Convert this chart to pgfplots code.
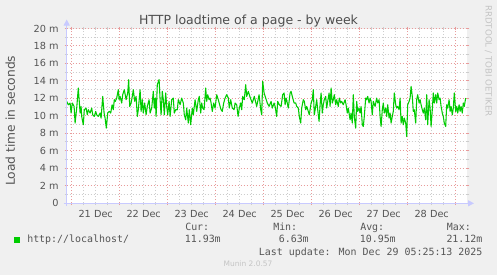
\documentclass[border=0pt]{standalone}
\usepackage{pgfplots}
\pgfplotsset{compat=1.18}
\usepackage{fontspec}
\setmainfont{DejaVu Sans}
\newfontfamily\mono{DejaVu Sans Mono}
\usetikzlibrary{arrows.meta}
\definecolor{bgc}{HTML}{F0F0F0}
\definecolor{txt}{HTML}{555555}
\definecolor{ttl}{HTML}{4D4D4D}
\definecolor{ser}{HTML}{00CC00}
\definecolor{mgrid}{RGB}{232,155,155}
\definecolor{ngrid}{RGB}{205,205,205}
\definecolor{axb}{RGB}{200,202,255}
\definecolor{wm}{HTML}{C4C4C4}
\pgfplotstableread{
h v
-2.5 11.65
-1.7 11.26
-0.8 11.46
-0.3 10.31
0.3 11.46
1.2 11.07
1.7 9.16
2.5 10.88
3.3 13.18
4.2 10.31
4.7 11.07
5.0 9.92
5.8 8.97
6.3 10.69
7.2 10.88
7.8 10.11
8.3 10.69
9.2 10.31
10.0 10.88
10.5 10.11
11.3 9.92
12.0 10.50
12.5 10.11
13.3 9.92
14.2 10.31
14.7 9.73
15.5 12.22
16.2 10.31
16.7 9.73
17.3 8.58
18.0 10.31
18.8 10.50
19.5 10.31
20.2 11.26
20.8 10.69
21.3 11.84
21.8 11.65
22.5 12.03
23.3 12.99
23.7 11.84
24.2 12.22
25.0 11.46
25.5 12.41
26.3 12.99
27.2 11.84
28.0 12.61
28.5 14.14
29.0 11.07
29.7 11.46
30.3 12.22
30.8 12.99
31.5 11.65
32.2 12.22
32.8 9.92
33.3 10.69
34.2 12.99
34.7 10.50
35.3 11.84
35.8 10.31
36.5 11.46
37.2 10.11
37.8 11.07
38.7 11.84
39.2 10.31
40.0 10.88
40.8 12.80
41.3 10.88
41.8 12.03
42.2 9.92
42.8 13.56
43.7 14.14
44.2 11.84
44.7 10.11
45.3 12.80
45.8 11.84
46.3 10.11
47.0 12.61
47.5 11.07
48.0 10.11
48.7 11.65
49.2 9.92
50.0 11.84
50.8 12.03
51.3 10.31
52.0 10.69
52.8 10.69
53.3 11.84
54.2 11.26
55.0 12.03
55.8 11.46
56.3 10.11
57.0 9.54
57.5 10.88
58.3 9.16
58.8 10.69
59.5 8.97
60.3 10.88
60.8 10.11
61.7 11.84
62.5 10.50
63.3 11.84
63.8 12.22
64.5 10.31
65.0 11.46
65.5 10.88
66.2 10.69
67.0 13.18
67.5 11.65
68.0 12.41
68.7 11.84
69.2 12.03
69.7 11.46
70.3 10.50
71.0 11.46
71.7 10.88
72.5 12.41
73.3 11.84
74.2 11.07
74.7 10.69
75.3 10.50
76.0 11.46
76.7 12.03
77.5 12.41
78.3 12.03
78.8 10.88
79.5 11.84
80.3 10.88
81.2 10.69
81.7 11.46
82.5 11.26
83.2 9.92
83.8 10.88
84.5 11.46
85.0 10.69
85.5 12.22
86.3 11.84
87.0 13.56
87.5 12.22
88.3 12.80
89.2 12.12
90.3 11.46
91.3 12.22
92.5 11.07
93.7 12.41
94.5 10.69
95.0 10.11
95.5 13.95
96.2 12.61
97.0 12.03
97.8 11.46
98.7 11.07
99.7 11.65
100.3 10.88
101.2 11.46
101.7 11.07
102.5 9.92
103.0 11.65
103.8 11.26
104.7 11.07
105.5 12.41
106.2 12.61
106.7 11.26
107.2 12.03
107.8 11.46
108.3 10.88
109.2 12.61
109.7 12.80
110.3 12.22
111.2 11.46
112.0 11.46
112.5 11.07
113.3 10.88
113.8 9.92
114.5 9.16
115.0 10.88
115.8 11.84
116.3 11.65
117.0 10.69
117.5 11.07
118.3 10.50
118.8 10.11
119.7 11.46
120.3 11.84
120.8 12.99
121.3 10.11
122.0 11.07
122.5 11.84
123.0 10.69
123.7 9.35
124.2 11.26
124.7 12.61
125.3 10.31
125.8 11.26
126.3 11.84
127.0 12.22
127.5 10.88
128.0 11.65
128.7 12.61
129.2 11.07
129.7 13.18
130.3 11.46
130.8 11.84
131.3 12.41
132.0 11.26
132.5 11.84
133.3 11.07
133.8 12.03
134.5 11.46
135.0 11.65
135.8 11.26
136.7 11.84
137.2 11.26
137.8 10.31
138.3 10.88
139.2 9.54
139.7 10.31
140.3 9.16
140.8 12.41
141.3 9.92
142.0 8.58
142.5 11.65
143.0 10.50
143.7 10.88
144.2 10.31
144.7 11.07
145.3 8.97
145.8 8.77
146.3 9.92
147.0 12.03
147.5 11.84
148.0 12.22
148.7 11.46
149.2 12.03
149.7 11.65
150.3 10.11
150.8 11.65
151.7 11.07
152.5 12.03
153.0 11.46
153.7 11.84
154.2 9.92
154.7 8.77
155.3 10.69
155.8 11.46
156.3 10.31
157.0 10.88
157.5 9.92
158.0 11.26
158.7 9.73
159.2 10.31
159.7 9.16
160.3 9.92
160.8 10.50
161.3 12.61
162.0 11.26
162.5 10.88
163.0 11.07
163.7 10.69
164.2 12.03
164.7 9.16
165.3 9.92
165.8 8.97
166.3 9.73
167.0 9.16
167.5 7.62
168.0 11.26
168.7 11.65
169.2 12.03
169.7 13.37
170.3 12.22
170.8 10.50
171.3 10.69
172.0 9.16
172.5 11.84
173.0 12.41
173.7 11.46
174.2 11.84
174.7 11.26
175.3 10.69
175.8 10.31
176.3 10.88
177.0 9.54
177.5 12.41
178.0 8.97
178.7 11.84
179.2 10.88
179.7 8.77
180.3 10.69
180.8 12.61
181.3 11.46
182.0 12.41
182.5 11.46
183.0 12.61
183.7 11.84
184.2 12.03
184.7 11.07
185.3 10.31
185.8 9.92
186.3 9.16
187.0 8.77
187.5 11.26
188.0 10.88
188.7 11.84
189.2 10.50
189.7 11.07
190.3 10.11
190.8 10.88
191.3 12.61
192.0 10.50
192.5 11.07
193.0 10.31
193.7 11.26
194.2 10.50
194.7 11.07
195.3 10.31
195.8 11.46
196.3 11.07
197.0 12.03
}\loadtime
\begin{document}
\begin{tikzpicture}
\begin{scope}[x=0.75pt,y=-0.75pt]
\fill[bgc] (0,0) rectangle (497,275);
\end{scope}
\begin{axis}[
  at={(50.025pt,-152.25pt)}, anchor=south west,
  scale only axis, width=300.45pt, height=130.875pt,
  xmin=-2.5, xmax=197.8, ymin=0, ymax=20,
  axis line style={draw=none},
  axis background/.style={fill=white},
  grid=major,
  major grid style={ngrid, line width=0.75pt, dash pattern=on 0.75pt off 1.5pt},
  tick align=outside,
  major tick length=1.5pt,
  tick style={ngrid, line width=0.75pt},
  xtick={6,12,18,30,36,42,54,60,66,78,84,90,102,108,114,126,132,138,150,156,162,174,180,186},
  xticklabels={,21 Dec,,,22 Dec,,,23 Dec,,,24 Dec,,,25 Dec,,,26 Dec,,,27 Dec,,,28 Dec,},
  extra x ticks={0,24,48,72,96,120,144,168,192},
  extra x tick labels={},
  extra x tick style={grid=major, major grid style={mgrid, line width=0.75pt, dash pattern=on 0.75pt off 1.5pt}, tick style={mgrid}},
  ytick={1,3,5,7,9,11,13,15,17,19},
  yticklabels={},
  extra y ticks={0,2,4,6,8,10,12,14,16,18,20},
  extra y tick labels={0,2 m,4 m,6 m,8 m,10 m,12 m,14 m,16 m,18 m,20 m},
  extra y tick style={grid=major, major grid style={mgrid, line width=0.75pt, dash pattern=on 0.75pt off 1.5pt}, tick style={mgrid}},
  ticklabel style={font=\fontsize{7.3}{8}\selectfont, text=txt},
  xticklabel style={yshift=-0.5pt},
  yticklabel style={xshift=-1pt},
]
\addplot[ser, line width=0.8pt, line join=round] table[x=h,y=v] {\loadtime};
\end{axis}
\begin{scope}[x=0.75pt,y=-0.75pt]
\draw[axb, line width=0.75pt, -{Triangle[length=4.5pt,width=4.5pt]}] (63.5,203.3) -- (474,203.3);
\draw[axb, line width=0.75pt, -{Triangle[length=4.5pt,width=4.5pt]}] (66.7,206) -- (66.7,19.5);
\node[anchor=base, text=ttl, font=\fontsize{9.4}{11}\selectfont, inner sep=0] at (248.5,24) {HTTP loadtime of a page - by week};
\node[anchor=base, rotate=90, text=txt, font=\fontsize{9.2}{11}\selectfont, inner sep=0] at (15,120.8) {Load time in seconds};
\node[anchor=base west, rotate=-90, text=wm, font=\fontsize{6.5}{8}\selectfont, inner sep=0] at (485.5,5) {RRDTOOL / TOBI OETIKER};
\fill[ser] (14,236.7) rectangle (19.7,243.3);
\begin{scope}[every node/.style={inner sep=0, text=txt, font=\mono\fontsize{7.46}{9}\selectfont}]
\node[anchor=base west] at (27,242) {http://localhost/};
\node[anchor=base west] at (185,230) {Cur:};
\node[anchor=base west] at (273,230) {Min:};
\node[anchor=base west] at (360,230) {Avg:};
\node[anchor=base west] at (446.7,230) {Max:};
\node[anchor=base east] at (221,242) {11.93m};
\node[anchor=base east] at (309,242) {6.63m};
\node[anchor=base east] at (396,242) {10.95m};
\node[anchor=base east] at (482.7,242) {21.12m};
\node[anchor=base east] at (482.7,255) {Last update: Mon Dec 29 05:25:13 2025};
\end{scope}
\node[anchor=base, inner sep=0, text=wm, font=\fontsize{5.6}{7}\selectfont] at (248,266.5) {Munin 2.0.57};
\end{scope}
\end{tikzpicture}
\end{document}
